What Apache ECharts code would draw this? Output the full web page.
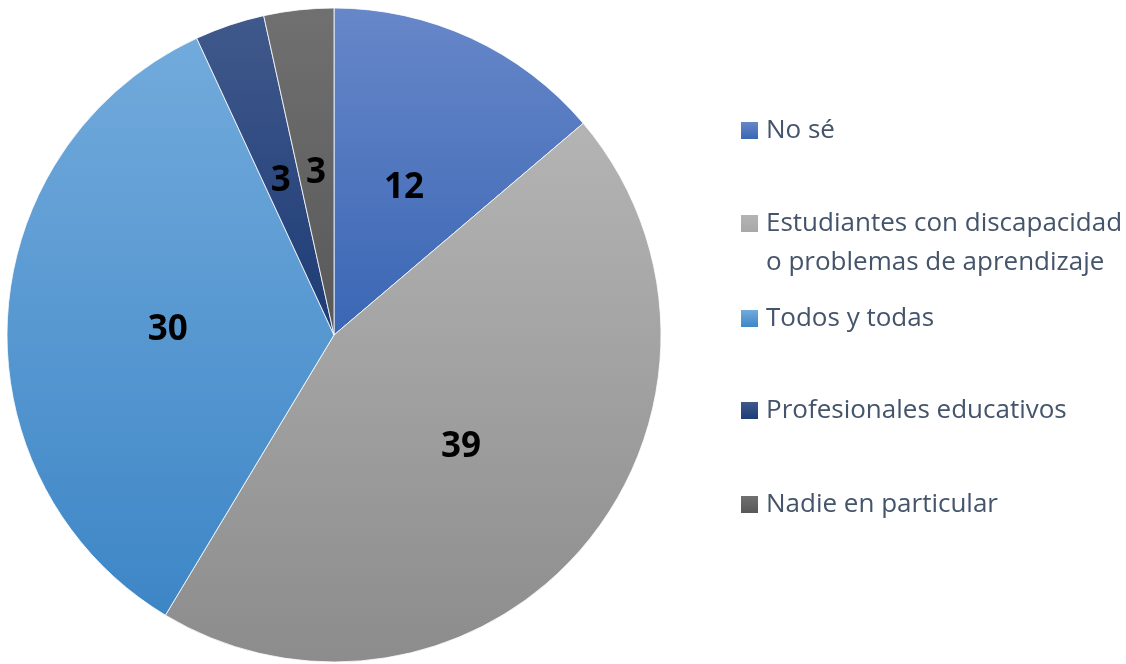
<!DOCTYPE html>
<html>
<head>
<meta charset="utf-8">
<script src="https://cdn.jsdelivr.net/npm/echarts@6/dist/echarts.min.js"></script>
<style>
  html, body { margin: 0; padding: 0; background: #fff; }
  #chart { width: 1126px; height: 664px; }
</style>
</head>
<body>
<div id="chart"></div>
<script>
"use strict";

var categories = ['No sé', 'Estudiantes con discapacidad o problemas de aprendizaje', 'Todos y todas', 'Profesionales educativos', 'Nadie en particular'];
var values = [12, 39, 30, 3, 3];
var topColors = ['#6787c9', '#b4b4b4', '#72aadc', '#40598c', '#707070'];
var bottomColors = ['#3a66b4', '#8c8c8c', '#3d86c6', '#1d3b75', '#585858'];
var legendTops = [111, 204, 299, 391, 485];

var chart = echarts.init(document.getElementById('chart'));

function grad(i) {
	return new echarts.graphic.LinearGradient(0, 0, 0, 1, [
		{ offset: 0, color: topColors[i] },
		{ offset: 1, color: bottomColors[i] }
	]);
}

var pieData = [];
for (var i = 0; i < categories.length; i++) {
	pieData.push({ name: categories[i], value: values[i], itemStyle: { color: grad(i) } });
}

var legends = [];
for (var k = 0; k < categories.length; k++) {
	var twoLine = categories[k].indexOf('Estudiantes') === 0;
	legends.push({
		data: [categories[k]],
		left: 741,
		top: legendTops[k],
		padding: 0,
		orient: 'vertical',
		itemWidth: 17,
		itemHeight: twoLine ? 56 : 17,
		// square sits on the first text line of the two-line entry
		icon: twoLine ? 'path://M0,0H17V17H0Z M0,56L0.01,56Z' : 'rect',
		itemStyle: { borderWidth: 0 },
		selectedMode: false,
		formatter: function(name) {
			if (name.indexOf('Estudiantes') === 0) {
				return 'Estudiantes con discapacidad\no problemas de aprendizaje';
			}
			return name;
		},
		textStyle: {
			fontFamily: 'Open Sans',
			fontSize: 26,
			color: '#44546a',
			lineHeight: 39,
			padding: [0, 0, 0, 3]
		}
	});
}

chart.setOption({
	animation: false,
	legend: legends,
	series: [{
		type: 'pie',
		center: [334, 335],
		radius: [0, 327],
		startAngle: 90,
		clockwise: true,
		data: pieData,
		itemStyle: { borderColor: '#ffffff', borderWidth: 0.8 },
		label: {
			show: true,
			position: 'inside',
			formatter: '{c}',
			fontFamily: 'Open Sans',
			fontWeight: 'bold',
			fontSize: 35,
			color: '#000',
			offset: [0, 4]
		},
		labelLine: { show: false },
		emphasis: { disabled: true }
	}]
});
</script>
</body>
</html>
